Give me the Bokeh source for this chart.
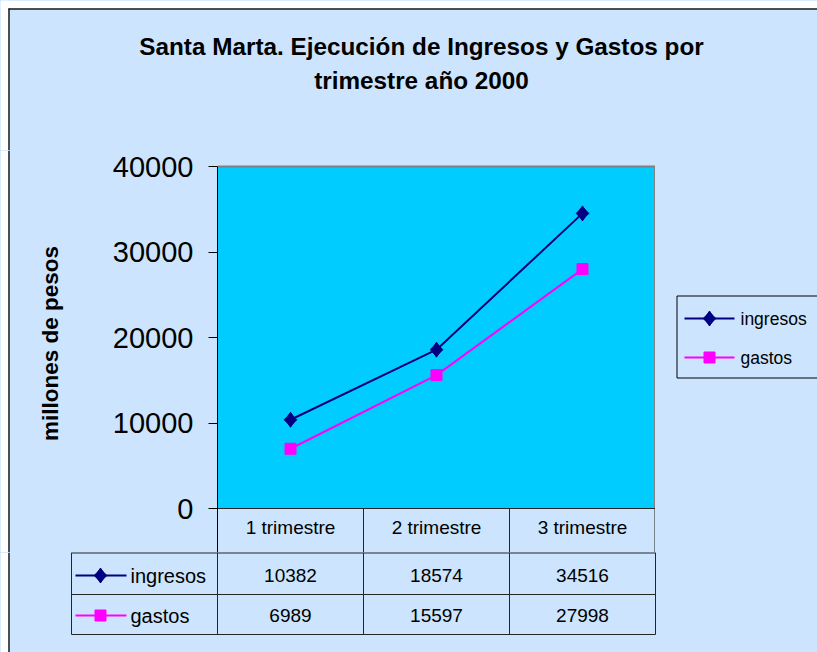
import numpy as np
from bokeh.plotting import figure
from bokeh.layouts import column, row
from bokeh.models import FactorRange, Range1d, FixedTicker, ColumnDataSource
from bokeh.core.properties import value
from bokeh.embed import file_html
from bokeh.resources import INLINE

# ---- data ----
categories = ["1 trimestre", "2 trimestre", "3 trimestre"]
ingresos = [10382, 18574, 34516]
gastos = [6989, 15597, 27998]
series_names = ["ingresos", "gastos"]
y_ticks = [0, 10000, 20000, 30000, 40000]
title_lines = ["Santa Marta. Ejecución de Ingresos y Gastos por", "trimestre año 2000"]
y_label = "millones de pesos"

# ---- styles / layout ----
FONT = value("Liberation Sans")
BG = "#CCE4FD"
PLOT_BG = "#00CCFF"
C_ING = "#000080"
C_GAS = "#FF00FF"
GRID = "#262626"
EDGE = "#1a1a1a"
series_cols = [C_ING, C_GAS]

W, H = 817, 652
FL, FR, FT, FB = 217, 655, 166, 508   # plot-area edges in page px
TOP_H = 150                            # height of the title band
MID_B = 552                            # bottom of the middle band (table header bottom)
STRIP_W = 70                           # left strip (margin, border, axis title)
YMAX = 40000
XU = (FR - FL) / len(categories)      # px per category
YU = (FB - FT) / YMAX                 # px per unit
n = len(categories)
MID_H = MID_B - TOP_H


def ux(px):
    return (px - FL) / XU


def uy(py):
    return (FB - py) / YU


def bare(f, bg=BG):
    f.border_fill_color = bg
    f.background_fill_color = bg
    f.outline_line_color = None
    f.axis.visible = False
    f.grid.visible = False
    return f


def key(f, x0, x1, xm, cy, r, col):
    """legend key: line plus marker"""
    f.line(x=[x0, x1], y=[cy, cy], line_color=col, line_width=2)
    if r == 0:
        f.scatter(x=[xm], y=[cy], marker="diamond", size=15, fill_color=col, line_color=col)
        f.scatter(x=[xm], y=[cy], marker="square", angle=np.pi / 4, size=9,
                  fill_color=col, line_color=col)
    else:
        f.scatter(x=[xm], y=[cy], marker="square", size=11, fill_color=col, line_color=col)


# ================= title band =================
t = bare(figure(width=W, height=TOP_H, x_range=Range1d(0, W), y_range=Range1d(TOP_H, 0),
                output_backend="svg", toolbar_location=None, min_border=0))
t.quad(left=[0, 0], right=[8, W], top=[0, 0], bottom=[TOP_H, 8], fill_color="white", line_color=None)
t.segment(x0=[8.5, 8], y0=[8, 8.5], x1=[8.5, W], y1=[TOP_H, 8.5], line_color=EDGE, line_width=1.5)
t.text(x=[421, 421], y=[46, 80], text=title_lines, text_align="center", text_baseline="middle",
       text_font=FONT, text_font_style="bold", text_font_size="24.3px", text_color="black")

# ================= left strip with axis title =================
s = bare(figure(width=STRIP_W, height=MID_H, x_range=Range1d(0, STRIP_W),
                y_range=Range1d(MID_B, TOP_H), output_backend="svg", toolbar_location=None,
                min_border=0))
s.quad(left=[0], right=[8], top=[TOP_H], bottom=[MID_B], fill_color="white", line_color=None)
s.segment(x0=[8.5], y0=[TOP_H], x1=[8.5], y1=[MID_B], line_color=EDGE, line_width=1.5)
s.text(x=[50], y=[343], text=[y_label], angle=np.pi / 2, text_align="center",
       text_baseline="middle", text_font=FONT, text_font_style="bold",
       text_font_size="22.5px", text_color="black")

# ================= main chart =================
p = figure(width=FR - STRIP_W, height=MID_H,
           x_range=FactorRange(*categories), y_range=Range1d(uy(MID_B), uy(TOP_H)),
           output_backend="svg", toolbar_location=None,
           min_border_left=FL - STRIP_W, min_border_right=0,
           min_border_top=0, min_border_bottom=0)
p.border_fill_color = BG
p.background_fill_color = BG
p.outline_line_color = None
p.xgrid.visible = False
p.ygrid.visible = False
p.xaxis.visible = False

ya = p.yaxis[0]
ya.ticker = FixedTicker(ticks=y_ticks)
ya.bounds = (uy(MID_B), YMAX)
ya.major_label_text_font = "Liberation Sans"
ya.major_label_text_font_size = "29px"
ya.major_label_text_color = "black"
ya.major_tick_out = 9
ya.major_tick_in = 0
ya.minor_tick_out = 0
ya.minor_tick_in = 0
ya.axis_line_color = "black"
ya.major_tick_line_color = "black"
ya.major_label_standoff = 15

# plot area
p.quad(left=[0], right=[n], bottom=[0], top=[YMAX], fill_color=PLOT_BG, line_color=None)
p.segment(x0=[0, n], y0=[YMAX, 0], x1=[n, n], y1=[YMAX, YMAX], line_color="#808080",
          line_width=[2, 3])

# header row of the data table (inside the frame, below zero)
p.segment(x0=[0], y0=[0], x1=[n], y1=[0], line_color=GRID, line_width=1)
p.segment(x0=[1, 2], y0=[uy(MID_B)] * 2, x1=[1, 2], y1=[0, 0], line_color=GRID, line_width=1)
p.segment(x0=[n], y0=[uy(MID_B)], x1=[n], y1=[0], line_color=GRID, line_width=2)
p.text(x=categories, y=[uy(527)] * n, text=categories, text_align="center",
       text_baseline="middle", text_font=FONT, text_font_size="19px", text_color="black")

src = ColumnDataSource(dict(cat=categories, ingresos=ingresos, gastos=gastos))
p.line("cat", "ingresos", source=src, line_color=C_ING, line_width=2)
p.scatter("cat", "ingresos", source=src, marker="diamond", size=15,
          fill_color=C_ING, line_color=C_ING)
p.scatter("cat", "ingresos", source=src, marker="square", angle=np.pi / 4,
          size=9, fill_color=C_ING, line_color=C_ING)
p.line("cat", "gastos", source=src, line_color=C_GAS, line_width=2)
p.scatter("cat", "gastos", source=src, marker="square",
          size=11, fill_color=C_GAS, line_color=C_GAS)

# ================= legend band (right) =================
g = bare(figure(width=W - FR, height=MID_H, x_range=Range1d(FR, W),
                y_range=Range1d(MID_B, TOP_H), output_backend="svg", toolbar_location=None,
                min_border=0))
g.quad(left=[676.5], right=[W + 20], top=[295.5], bottom=[377.5], fill_color=BG,
       line_color="black", line_width=1)
leg_cy = [318, 357]
for r, name in enumerate(series_names):
    key(g, 684, 734, 709, leg_cy[r], r, series_cols[r])
    g.text(x=[740], y=[leg_cy[r]], text=[name], text_align="left", text_baseline="middle",
           text_font=FONT, text_font_size="17.5px", text_color="black")

# ================= data table rows =================
BOT_H = H - MID_B
b = bare(figure(width=W, height=BOT_H, x_range=Range1d(ux(0), ux(W)),
                y_range=Range1d(H, MID_B), output_backend="svg", toolbar_location=None,
                min_border=0))
b.quad(left=[ux(0)], right=[ux(8)], top=[MID_B], bottom=[H], fill_color="white", line_color=None)
b.segment(x0=[ux(8.5)], y0=[MID_B], x1=[ux(8.5)], y1=[H], line_color=EDGE, line_width=1.5)

rows_y = [MID_B, 594, 634]
b.segment(x0=[-1] * 3, y0=rows_y, x1=[n] * 3, y1=rows_y, line_color=GRID,
          line_width=[2, 1, 1])
vx = list(range(-1, n + 1))
b.segment(x0=vx, y0=[MID_B] * len(vx), x1=vx, y1=[634] * len(vx), line_color=GRID, line_width=1)

xs = [i + 0.5 for i in range(n)]
series_vals = [ingresos, gastos]
row_cy = [575, 615]
for r, (name, vals) in enumerate(zip(series_names, series_vals)):
    cy = row_cy[r]
    b.text(x=xs, y=[cy] * n, text=[str(v) for v in vals], text_align="center",
           text_baseline="middle", text_font=FONT, text_font_size="19px", text_color="black")
    b.text(x=[ux(130)], y=[cy], text=[name], text_align="left", text_baseline="middle",
           text_font=FONT, text_font_size="20px", text_color="black")
    key(b, ux(75), ux(126), ux(100), cy, r, series_cols[r])

mid = row(s, p, g, spacing=0)
mid.styles = {"background-color": BG}
layout = column(t, mid, b, spacing=0)
layout.styles = {"background-color": BG}
open("out.html", "w").write(file_html(layout, INLINE))
